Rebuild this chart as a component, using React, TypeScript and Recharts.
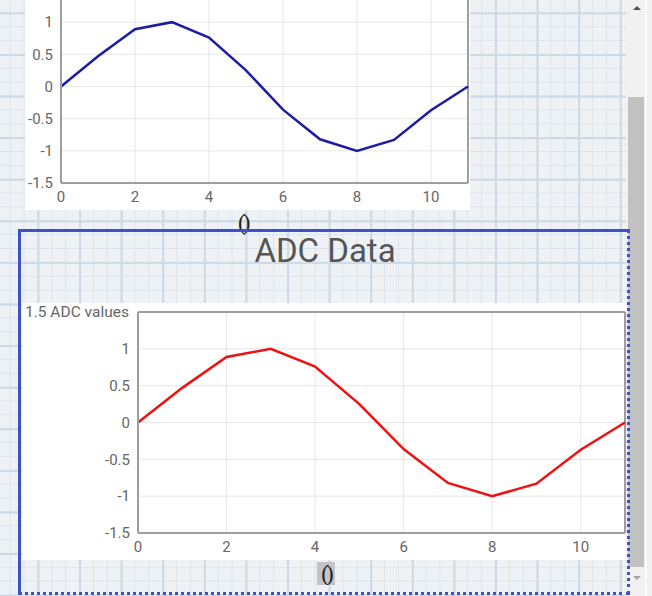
import { LineChart, Line, XAxis, YAxis, CartesianGrid, ReferenceLine } from 'recharts';

const xValues = [0, 1, 2, 3, 4, 5, 6, 7, 8, 9, 10, 11];
const adcValues = [0, 0.47, 0.89, 1.0, 0.76, 0.25, -0.36, -0.82, -1.0, -0.83, -0.37, 0];
const xTicks = [0, 2, 4, 6, 8, 10];
const yTicks = [-1.5, -1, -0.5, 0, 0.5, 1, 1.5];
const title = 'ADC Data';
const yTitle = 'ADC values';

const data = xValues.map((x, i) => ({ x, value: adcValues[i] }));

const font = 'Roboto, sans-serif';
const tickStyle = { fontSize: 15, fill: '#666', fontFamily: font };

const YTick = (props: any) => {
  const { x, y, payload, withTitle } = props;
  if (payload.value === 1.5) {
    if (!withTitle) return null;
    return (
      <text x={3} y={y} dy="0.35em" textAnchor="start" {...tickStyle} fontSize={15.5}>
        {`1.5 ${yTitle}`}
      </text>
    );
  }
  return (
    <text x={x} y={y} dy="0.35em" textAnchor="end" {...tickStyle}>
      {payload.value}
    </text>
  );
};

function AdcChart({ width, height, margin, yWidth, color, withTitle }: any) {
  return (
    <LineChart width={width} height={height} data={data} margin={margin}>
      <CartesianGrid stroke="#e6e6e6" strokeWidth={1} />
      <XAxis
        dataKey="x"
        type="number"
        domain={[0, 11]}
        ticks={xTicks}
        tickLine={false}
        axisLine={{ stroke: '#9e9e9e', strokeWidth: 2 }}
        tick={tickStyle}
        height={27}
      />
      <YAxis
        type="number"
        domain={[-1.5, 1.5]}
        ticks={yTicks}
        tickLine={false}
        axisLine={{ stroke: '#9e9e9e', strokeWidth: 2 }}
        tick={<YTick withTitle={withTitle} />}
        width={yWidth}
        interval={0}
      />
      <ReferenceLine x={11} stroke="#9e9e9e" strokeWidth={2} />
      <ReferenceLine y={1.5} stroke="#9e9e9e" strokeWidth={2} />
      <Line
        type="linear"
        dataKey="value"
        stroke={color}
        strokeWidth={2.5}
        dot={false}
        isAnimationActive={false}
      />
    </LineChart>
  );
}

export default function App() {
  return (
    <div
      style={{
        position: 'fixed',
        left: 0,
        top: 0,
        width: 652,
        height: 596,
        overflow: 'hidden',
        background: '#f0f0f0',
      }}
    >
      {/* grid paper */}
      <div
        style={{
          position: 'absolute',
          left: 0,
          top: 0,
          width: 626,
          height: 596,
          backgroundColor: '#eff2f5',
          backgroundImage:
            'linear-gradient(#cdd9e4 1.5px, transparent 1.5px), linear-gradient(90deg, #cdd9e4 1.5px, transparent 1.5px), linear-gradient(#dce5ed 1px, transparent 1px), linear-gradient(90deg, #dce5ed 1px, transparent 1px)',
          backgroundSize: '41.6px 41.6px, 41.6px 41.6px, 13.87px 13.87px, 13.87px 13.87px',
          backgroundPosition: '37.5px 12.4px, 37.5px 12.4px, 37.5px 12.4px, 37.5px 12.4px',
        }}
      />

      {/* top chart, scrolled partly out of view */}
      <div style={{ position: 'absolute', left: 25, top: -25, width: 445, height: 235, background: '#fff' }}>
        <AdcChart
          width={445}
          height={235}
          margin={{ top: 15, right: 2, bottom: 0, left: 0 }}
          yWidth={36}
          color="#1c1ca6"
          withTitle={false}
        />
      </div>

      <div
        style={{
          position: 'absolute',
          left: 238,
          top: 211,
          fontFamily: 'serif',
          fontSize: 23,
          color: '#222',
          lineHeight: '24px',
          letterSpacing: -3,
        }}
      >
        ()
      </div>

      {/* blue framed box */}
      <div
        style={{
          position: 'absolute',
          left: 18,
          top: 229,
          width: 606,
          height: 360,
          borderLeft: '3px solid #3f51c8',
          borderTop: '3px solid #3f51c8',
          borderRight: '3px dotted #3f51c8',
          borderBottom: '3px dotted #3f51c8',
          zIndex: 2,
          pointerEvents: 'none',
        }}
      />

      <div
        style={{
          position: 'absolute',
          left: 0,
          width: 650,
          top: 232,
          textAlign: 'center',
          fontFamily: font,
          fontSize: 33,
          color: '#555',
          lineHeight: '38px',
        }}
      >
        {title}
      </div>

      <div style={{ position: 'absolute', left: 22, top: 303, width: 606, height: 257, background: '#fff' }}>
        <AdcChart
          width={606}
          height={257}
          margin={{ top: 9, right: 3, bottom: 0, left: 0 }}
          yWidth={116}
          color="#ee1111"
          withTitle={true}
        />
      </div>

      <div
        style={{
          position: 'absolute',
          left: 317,
          top: 562,
          width: 18,
          height: 23,
          background: '#c4c4c4',
          fontFamily: 'serif',
          fontSize: 23,
          color: '#222',
          lineHeight: '23px',
          textAlign: 'center',
          letterSpacing: -3,
          overflow: 'hidden',
        }}
      >
        ()
      </div>

      {/* scrollbar */}
      <div style={{ position: 'absolute', left: 626, top: 0, width: 19, height: 596, background: '#f1f1f1' }} />
      <div style={{ position: 'absolute', left: 628, top: 97, width: 16, height: 470, background: '#c1c1c1' }} />
      <div
        style={{
          position: 'absolute',
          left: 633,
          top: 6,
          width: 0,
          height: 0,
          borderLeft: '4px solid transparent',
          borderRight: '4px solid transparent',
          borderBottom: '4px solid #505050',
        }}
      />
      <div
        style={{
          position: 'absolute',
          left: 633,
          top: 576,
          width: 0,
          height: 0,
          borderLeft: '4px solid transparent',
          borderRight: '4px solid transparent',
          borderTop: '4px solid #a3a3a3',
        }}
      />
      <div style={{ position: 'absolute', left: 645, top: 0, width: 2, height: 596, background: '#fafafa' }} />
    </div>
  );
}
